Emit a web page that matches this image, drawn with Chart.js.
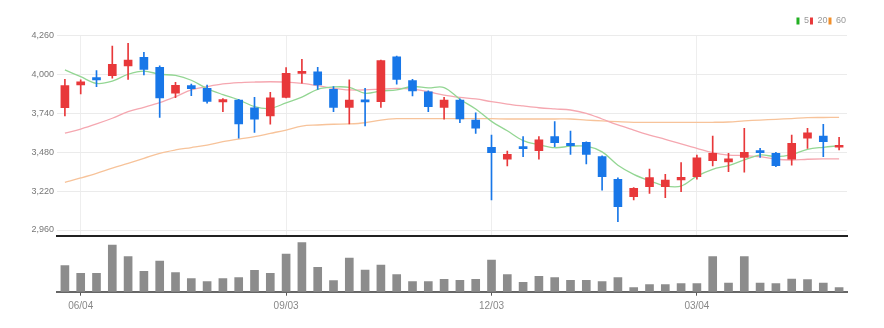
<!DOCTYPE html>
<html>
<head>
<meta charset="utf-8">
<script src="https://cdn.jsdelivr.net/npm/chart.js@4.4.1/dist/chart.umd.min.js"></script>
<style>
  html, body { margin: 0; padding: 0; background: #ffffff; }
  #wrap { position: relative; width: 884px; height: 328px; overflow: hidden; }
  #price { position: absolute; left: 0; top: 0; }
  #volume { position: absolute; left: 0; top: 236px; }
</style>
</head>
<body>
<div id="wrap">
  <canvas id="price" width="884" height="252"></canvas>
  <canvas id="volume" width="884" height="92"></canvas>
</div>
<script>
// Weekly candles
const categories = [
  '05/28','06/04','06/11','06/18','06/25','07/02','07/09','07/16','07/23','07/30',
  '08/06','08/13','08/20','08/27','09/03','09/10','09/17','09/24','10/01','10/08',
  '10/15','10/22','10/29','11/05','11/12','11/19','11/26','12/03','12/10','12/17',
  '12/24','12/31','01/07','01/14','01/21','01/28','02/04','02/11','02/18','02/25',
  '03/04','03/11','03/18','03/25','04/01','04/08','04/15','04/22','04/29','05/06'
];
const opens = [
  3777, 3929, 3978, 3991, 4056, 4114, 4047, 3874, 3925, 3907,
  3816, 3829, 3777, 3722, 3847, 4007, 4018, 3900, 3780, 3829,
  3818, 4118, 3958, 3884, 3780, 3829, 3695, 3513, 3433, 3517,
  3490, 3584, 3540, 3546, 3450, 3299, 3183, 3249, 3249, 3294,
  3316, 3423, 3415, 3446, 3488, 3473, 3433, 3573, 3588, 3513
];
const highs = [
  3967, 3963, 4025, 4190, 4208, 4148, 4058, 3947, 3935, 3929,
  3838, 3834, 3847, 3880, 4045, 4101, 4047, 3918, 3963, 3907,
  4096, 4123, 3967, 3891, 3847, 3836, 3744, 3595, 3488, 3584,
  3584, 3684, 3622, 3550, 3455, 3308, 3243, 3368, 3332, 3410,
  3461, 3588, 3473, 3640, 3506, 3479, 3595, 3640, 3667, 3580
];
const lows = [
  3722, 3869, 3918, 3974, 3967, 3996, 3713, 3844, 3858, 3807,
  3751, 3573, 3613, 3667, 3842, 3941, 3900, 3751, 3669, 3655,
  3780, 3934, 3856, 3751, 3700, 3677, 3606, 3161, 3388, 3450,
  3433, 3517, 3466, 3401, 3227, 3015, 3161, 3205, 3176, 3216,
  3299, 3388, 3350, 3346, 3446, 3384, 3394, 3506, 3450, 3495
];
const closes = [
  3925, 3951, 3963, 4068, 4096, 4034, 3842, 3927, 3904, 3820,
  3831, 3669, 3700, 3844, 4007, 4018, 3929, 3780, 3829, 3816,
  4092, 3967, 3889, 3784, 3829, 3702, 3640, 3477, 3466, 3503,
  3562, 3544, 3523, 3466, 3316, 3116, 3239, 3310, 3294, 3312,
  3443, 3473, 3435, 3479, 3477, 3390, 3540, 3610, 3550, 3526
];
// Moving averages (5, 20, 60 weeks)
const ma5 = [
  4030, 3985, 3940, 3955, 4001, 4022, 4001, 3993, 3961, 3905,
  3865, 3830, 3785, 3773, 3810, 3848, 3900, 3916, 3913, 3874,
  3889, 3897, 3919, 3910, 3912, 3834, 3769, 3686, 3623, 3558,
  3530, 3510, 3520, 3520, 3482, 3393, 3332, 3289, 3255, 3254,
  3320, 3366, 3391, 3428, 3461, 3451, 3464, 3499, 3513, 3523
];
const ma20 = [
  3607, 3635, 3669, 3707, 3751, 3780, 3811, 3851, 3896, 3918,
  3936, 3945, 3949, 3951, 3949, 3940, 3925, 3907, 3896, 3896,
  3902, 3907, 3902, 3884, 3862, 3847, 3836, 3818, 3802, 3789,
  3777, 3769, 3762, 3740, 3702, 3662, 3628, 3595, 3566, 3535,
  3506, 3477, 3461, 3457, 3450, 3433, 3428, 3433, 3435, 3435
];
const ma60 = [
  3279, 3308, 3339, 3374, 3406, 3439, 3473, 3495, 3511, 3528,
  3550, 3568, 3584, 3606, 3628, 3655, 3662, 3667, 3669, 3677,
  3695, 3704, 3705, 3705, 3705, 3705, 3705, 3704, 3702, 3702,
  3702, 3702, 3702, 3695, 3689, 3684, 3680, 3680, 3680, 3680,
  3680, 3680, 3682, 3689, 3695, 3700, 3705, 3711, 3712, 3713
];
const volumes = [
  260000, 184000, 184000, 467000, 350000, 204000, 307000, 190000, 130000, 100000,
  130000, 140000, 214000, 184000, 377000, 490000, 244000, 110000, 337000, 217000,
  267000, 170000, 100000, 100000, 124000, 114000, 124000, 317000, 170000,  94000,
  154000, 140000, 114000, 114000, 100000, 140000,  40000,  70000,  70000,  80000,
   80000, 350000,  87000, 350000,  87000,  80000, 127000, 120000,  87000,  40000
];
const priceTicks = [2960, 3220, 3480, 3740, 4000, 4260];
const dateTicks = ['06/04', '09/03', '12/03', '03/04'];

const FONT = "'Liberation Sans Narrow', 'Arial Narrow', 'Liberation Sans', sans-serif";
const UP = '#e8383a';
const DOWN = '#1877e8';
const candleColors = closes.map((c, i) => (c >= opens[i] ? UP : DOWN));

const maSeries = [
  { label: '5',  data: ma5,  line: '#93d693', key: '#22b022' },
  { label: '20', data: ma20, line: '#f5a7b0', key: '#e8383a' },
  { label: '60', data: ma60, line: '#f7c39a', key: '#f28f2a' }
];

const isDateTick = (i) => dateTicks.includes(categories[i]);

new Chart(document.getElementById('price'), {
  type: 'bar',
  data: {
    labels: categories,
    datasets: [
      ...maSeries.map((m, k) => ({
        type: 'line',
        label: m.label,
        data: m.data,
        borderColor: m.line,
        backgroundColor: m.key,
        borderWidth: 1.3,
        pointRadius: 0,
        tension: 0.35,
        order: 5 + k
      })),
      {
        label: 'wick',
        data: lows.map((l, i) => [l, highs[i]]),
        backgroundColor: candleColors,
        barThickness: 1,
        grouped: false,
        order: 2
      },
      {
        label: 'body',
        data: opens.map((o, i) => [o, closes[i]]),
        backgroundColor: candleColors,
        barThickness: 8,
        minBarLength: 2,
        grouped: false,
        order: 1
      }
    ]
  },
  options: {
    responsive: false,
    animation: false,
    layout: { padding: { top: 15.5, right: 37, left: 0, bottom: 0 } },
    plugins: {
      tooltip: { enabled: false },
      legend: {
        position: 'top',
        align: 'end',
        labels: {
          boxWidth: 3,
          boxHeight: 7,
          padding: 1,
          color: '#999999',
          font: { family: FONT, size: 9 },
          generateLabels: () => maSeries.map((m, k) => ({
            text: m.label,
            fillStyle: m.key,
            strokeStyle: m.key,
            lineWidth: 0,
            hidden: false,
            datasetIndex: k,
            fontColor: '#999999'
          }))
        }
      }
    },
    scales: {
      x: {
        offset: true,
        grid: {
          offset: false,
          drawTicks: false,
          color: (ctx) => (isDateTick(ctx.index) ? '#eeeeee' : 'rgba(0,0,0,0)')
        },
        ticks: { display: false },
        border: { color: '#222222', width: 2 },
        afterFit: (s) => { s.height = 16; }
      },
      y: {
        min: 2920,
        max: 4260,
        afterBuildTicks: (s) => { s.ticks = priceTicks.map((v) => ({ value: v })); },
        afterFit: (s) => { s.width = 57; },
        grid: { color: '#ebebeb', drawTicks: false },
        border: { display: false },
        ticks: {
          padding: 3,
          color: '#777777',
          font: { family: FONT, size: 9 },
          callback: (v) => Number(v).toLocaleString('en-US')
        }
      }
    }
  }
});

new Chart(document.getElementById('volume'), {
  type: 'bar',
  data: {
    labels: categories,
    datasets: [{
      label: 'volume',
      data: volumes,
      backgroundColor: '#8c8c8c',
      barThickness: 8
    }]
  },
  options: {
    responsive: false,
    animation: false,
    layout: { padding: { top: 5, right: 37, left: 57, bottom: 0 } },
    plugins: { legend: { display: false }, tooltip: { enabled: false } },
    scales: {
      x: {
        offset: true,
        grid: {
          offset: false,
          drawOnChartArea: false,
          drawTicks: true,
          tickLength: 4,
          color: (ctx) => (isDateTick(ctx.index) ? '#555555' : 'rgba(0,0,0,0)')
        },
        border: { color: '#666666', width: 2 },
        ticks: {
          autoSkip: false,
          maxRotation: 0,
          padding: 5,
          color: '#888888',
          font: { family: FONT, size: 10 },
          callback: (v, i) => (isDateTick(i) ? categories[i] : '')
        },
        afterFit: (s) => { s.height = 36.3; }
      },
      y: { display: false, min: 0, max: 507000 }
    }
  }
});
</script>
</body>
</html>
